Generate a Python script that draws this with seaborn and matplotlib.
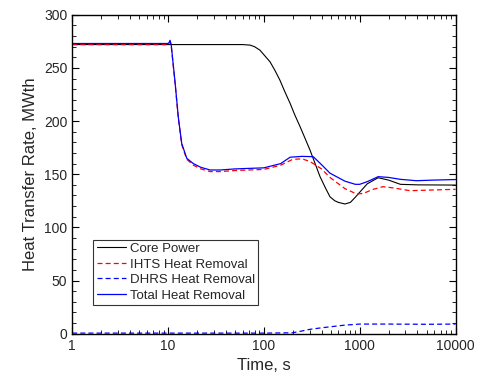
import numpy as np
import pandas as pd
import matplotlib
matplotlib.use("Agg")
import matplotlib.pyplot as plt
import seaborn as sns
from matplotlib.ticker import LogLocator, MultipleLocator, NullFormatter

# values
core_t = [1, 10, 30, 50, 60, 72, 80, 91, 100, 116, 130, 147, 165, 188, 210, 239, 270, 303, 342, 386,
          440, 490, 550, 600, 703, 800, 893, 1000, 1200, 1560, 2000, 2660, 4000, 10000]
core_p = [272, 272, 272, 272, 272, 271.5, 270, 266.8, 262.5, 255.8, 248, 238.6, 228, 216.7, 206, 194.7,
          183.5, 172.8, 160.3, 147.7, 137, 128.8, 125, 123.5, 122, 123.5, 128, 133, 141, 146.7, 144.5,
          140.5, 140, 139.8]

total_t = [1, 10, 10.3, 10.5, 10.8, 11.2, 11.9, 12.8, 13.9, 15.7, 18.4, 22, 27.5, 35, 50, 70, 100,
           150, 188, 250, 328, 400, 490, 700, 900, 1000, 1200, 1560, 2000, 2660, 3900, 6000, 10000]
total_q = [273, 273, 274, 276, 272, 258, 235, 204, 179, 165, 160, 156.5, 154, 154, 155, 155.5, 156,
           160, 166, 166.8, 166.5, 159, 151, 143.5, 140.5, 140.5, 143, 147.7, 147, 145.2, 143.9, 144.5, 145]

ihts_t = [1, 10, 10.3, 10.5, 10.8, 11.2, 11.9, 12.8, 13.9, 15.7, 18.4, 22, 27.5, 35, 50, 70, 100,
          150, 200, 250, 303, 400, 490, 700, 930, 1100, 1350, 1750, 2300, 3350, 5000, 10000]
ihts_q = [272, 272, 273, 275, 271, 257, 234, 203, 178, 164, 158.5, 155, 152.5, 152.5, 153.5, 154, 154.5,
          158.5, 164, 164.5, 162, 155, 147, 136.5, 131.4, 132, 135.5, 138.3, 137, 134.5, 135, 135.8]

dhrs_t = [1, 100, 200, 250, 300, 400, 500, 700, 1000, 2000, 5000, 10000]
dhrs_q = [0.5, 0.5, 0.8, 2.5, 4, 5.5, 6.5, 8, 9, 9, 8.8, 9]

sns.set_theme(style="ticks")
plt.rcParams['font.family'] = ['Liberation Sans', 'DejaVu Sans']

fig, ax = plt.subplots(figsize=(4.81, 3.8), dpi=100)
fig.subplots_adjust(left=0.15, right=0.947, bottom=0.122, top=0.961)

sns.lineplot(x=core_t, y=core_p, color='black', linewidth=0.8, label='Core Power', ax=ax)
sns.lineplot(x=ihts_t, y=ihts_q, color='red', linewidth=0.9, label='IHTS Heat Removal', ax=ax)
sns.lineplot(x=dhrs_t, y=dhrs_q, color='blue', linewidth=0.9, label='DHRS Heat Removal', ax=ax)
sns.lineplot(x=total_t, y=total_q, color='blue', linewidth=0.9, label='Total Heat Removal', ax=ax)
ax.lines[1].set_linestyle((0, (4, 2.5)))
ax.lines[2].set_linestyle((0, (4, 2.5)))

ax.set_xscale('log')
ax.set_xlim(1, 10000)
ax.set_ylim(0, 300)
ax.set_xticks([1, 10, 100, 1000, 10000])
ax.set_xticklabels(['1', '10', '100', '1000', '10000'])
ax.xaxis.set_minor_locator(LogLocator(base=10, subs=np.arange(2, 10)))
ax.xaxis.set_minor_formatter(NullFormatter())
ax.yaxis.set_major_locator(MultipleLocator(50))
ax.yaxis.set_minor_locator(MultipleLocator(10))

ax.tick_params(which='both', direction='in', top=True, right=True, labelsize=10, color='black')
ax.tick_params(which='major', length=5, width=0.8)
ax.tick_params(which='minor', length=3, width=0.6)
for s in ax.spines.values():
    s.set_linewidth(1.0)
    s.set_color('black')

ax.set_xlabel('Time, s', fontsize=12)
ax.set_ylabel('Heat Transfer Rate, MWth', fontsize=12)

leg = ax.legend(loc='lower left', bbox_to_anchor=(0.055, 0.09), fontsize=9.5, frameon=True,
                fancybox=False, edgecolor='black', handlelength=2.2, handletextpad=0.3,
                borderpad=0.25, labelspacing=0.25, borderaxespad=0)
leg.get_frame().set_linewidth(0.8)

plt.savefig('out.png', dpi=100)
